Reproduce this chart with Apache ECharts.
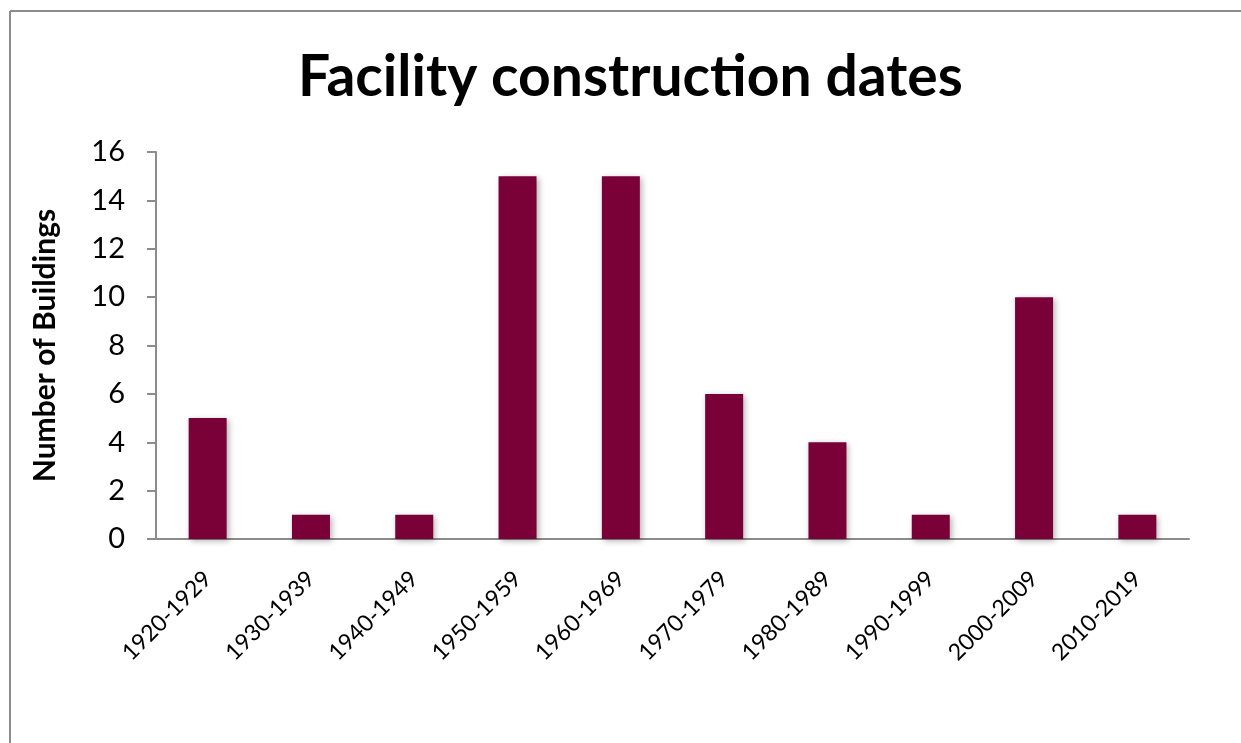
<!DOCTYPE html>
<html>
<head>
<meta charset="utf-8">
<script src="https://cdn.jsdelivr.net/npm/echarts@6/dist/echarts.min.js"></script>
<style>
    html, body { margin: 0; padding: 0; background: #fff; overflow: hidden; }
    #chart { width: 1241px; height: 743px; }
</style>
</head>
<body>
<div id="chart"></div>
<script>
    var decades = ['1920-1929', '1930-1939', '1940-1949', '1950-1959', '1960-1969',
        '1970-1979', '1980-1989', '1990-1999', '2000-2009', '2010-2019'];
    var buildings = [5, 1, 1, 15, 15, 6, 4, 1, 10, 1];

    var font = 'Lato, "Open Sans", sans-serif';
    var axisGray = '#8c8c8c';

    var app = echarts.init(document.getElementById('chart'));
    var option = {
        animation: false,
        // chart-area frame, only left and top edges are visible in the picture
        graphic: [
            { type: 'line', shape: { x1: 10, y1: 11, x2: 1241, y2: 11 }, style: { stroke: axisGray, lineWidth: 2 } },
            { type: 'line', shape: { x1: 10, y1: 11, x2: 10, y2: 743 }, style: { stroke: axisGray, lineWidth: 2 } }
        ],
        title: {
            text: 'Facility construction dates',
            left: 293,
            top: 44,
            textStyle: { fontFamily: font, fontSize: 57, fontWeight: 'bold', color: '#000' }
        },
        grid: { left: 156, top: 152, right: 52, bottom: 204 },
        xAxis: {
            type: 'category',
            data: decades,
            axisLine: { lineStyle: { color: axisGray, width: 2 } },
            axisTick: { length: 9, lineStyle: { color: axisGray, width: 2 } },
            axisLabel: { rotate: 45, margin: 36, fontFamily: font, fontSize: 23, color: '#000' }
        },
        yAxis: {
            type: 'value',
            min: 0, max: 16, interval: 2,
            name: 'Number of Buildings',
            nameLocation: 'middle',
            nameGap: 96,
            nameTextStyle: { fontFamily: font, fontSize: 30, fontWeight: 'bold', color: '#000' },
            axisLine: { show: true, lineStyle: { color: axisGray, width: 2 } },
            axisTick: { show: true, length: 9, lineStyle: { color: axisGray, width: 2 } },
            splitLine: { show: false },
            axisLabel: { margin: 31, fontFamily: font, fontSize: 29, color: '#000' }
        },
        series: [{
            type: 'bar',
            data: buildings,
            barWidth: 38,
            itemStyle: {
                color: '#7a0038',
                shadowColor: 'rgba(0,0,0,0.3)',
                shadowBlur: 6,
                shadowOffsetX: 2,
                shadowOffsetY: 2
            }
        }]
    };
    app.setOption(option);
</script>
</body>
</html>
